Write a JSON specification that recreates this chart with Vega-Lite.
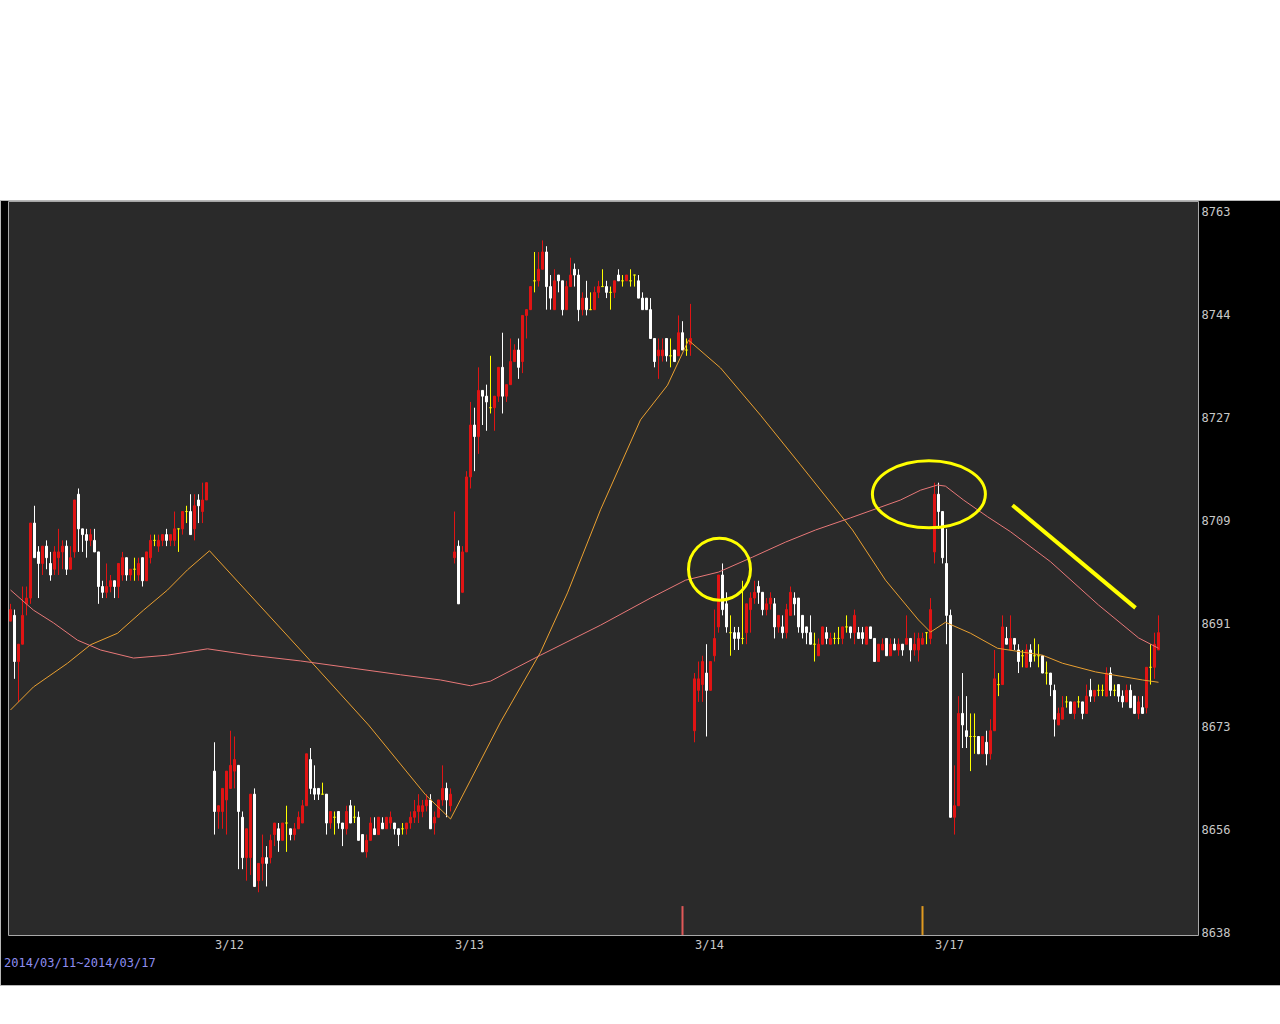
{
"$schema": "https://vega.github.io/schema/vega-lite/v6.json",
"width": 1280, "height": 785,
"autosize": {"type": "none"},
"padding": {"left": 0, "top": 200, "right": 0, "bottom": 39},
"background": "#ffffff",
"view": {"fill": "#000000", "stroke": "#b8b8b8", "strokeWidth": 1},
"title": {"text": "2014/03/11~2014/03/17", "orient": "bottom", "anchor": "start", "frame": "group", "offset": -27, "dx": 4, "color": "#8e8ef0", "font": "DejaVu Sans Mono", "fontSize": 12, "fontWeight": "normal"},
"config": {"axis": {"zindex": 1}},
"resolve": {"scale": {"color": "independent"}},
"datasets": {
"k": [
{"i":0,"o":8692,"h":8695,"l":8692,"c":8694},{"i":1,"o":8693,"h":8694,"l":8682,"c":8685},{"i":2,"o":8685,"h":8688,"l":8678,"c":8688},{"i":3,"o":8688,"h":8698,"l":8688,"c":8693},{"i":4,"o":8695,"h":8698,"l":8693,"c":8696},{"i":5,"o":8696,"h":8709,"l":8695,"c":8709},{"i":6,"o":8709,"h":8712,"l":8703,"c":8703},{"i":7,"o":8704,"h":8705,"l":8696,"c":8702},{"i":8,"o":8702,"h":8705,"l":8700,"c":8705},{"i":9,"o":8705,"h":8706,"l":8701,"c":8703},
{"i":10,"o":8702,"h":8704,"l":8699,"c":8700},{"i":11,"o":8701,"h":8705,"l":8700,"c":8704},{"i":12,"o":8703,"h":8708,"l":8700,"c":8704},{"i":13,"o":8704,"h":8706,"l":8701,"c":8705},{"i":14,"o":8705,"h":8706,"l":8700,"c":8701},{"i":15,"o":8701,"h":8705,"l":8701,"c":8703},{"i":16,"o":8704,"h":8713,"l":8703,"c":8713},{"i":17,"o":8714,"h":8715,"l":8704,"c":8708},{"i":18,"o":8708,"h":8708,"l":8704,"c":8707},{"i":19,"o":8707,"h":8708,"l":8703,"c":8706},
{"i":20,"o":8706,"h":8708,"l":8705,"c":8707},{"i":21,"o":8706,"h":8708,"l":8704,"c":8704},{"i":22,"o":8704,"h":8704,"l":8695,"c":8698},{"i":23,"o":8698,"h":8699,"l":8696,"c":8697},{"i":24,"o":8697,"h":8702,"l":8696,"c":8698},{"i":25,"o":8698,"h":8700,"l":8697,"c":8699},{"i":26,"o":8699,"h":8699,"l":8696,"c":8698},{"i":27,"o":8698,"h":8702,"l":8696,"c":8702},{"i":28,"o":8700,"h":8704,"l":8699,"c":8703},{"i":29,"o":8703,"h":8703,"l":8699,"c":8700},
{"i":30,"o":8700,"h":8701,"l":8699,"c":8701},{"i":31,"o":8701,"h":8703,"l":8699,"c":8701},{"i":32,"o":8700,"h":8703,"l":8699,"c":8702},{"i":33,"o":8703,"h":8703,"l":8698,"c":8699},{"i":34,"o":8699,"h":8704,"l":8699,"c":8704},{"i":35,"o":8703,"h":8707,"l":8702,"c":8706},{"i":36,"o":8706,"h":8707,"l":8705,"c":8706},{"i":37,"o":8705,"h":8707,"l":8704,"c":8706},{"i":38,"o":8706,"h":8707,"l":8705,"c":8707},{"i":39,"o":8707,"h":8708,"l":8705,"c":8706},
{"i":40,"o":8706,"h":8707,"l":8705,"c":8707},{"i":41,"o":8706,"h":8711,"l":8705,"c":8708},{"i":42,"o":8708,"h":8708,"l":8704,"c":8708},{"i":43,"o":8708,"h":8711,"l":8707,"c":8711},{"i":44,"o":8711,"h":8712,"l":8709,"c":8711},{"i":45,"o":8711,"h":8714,"l":8707,"c":8707},{"i":46,"o":8708,"h":8714,"l":8706,"c":8712},{"i":47,"o":8713,"h":8714,"l":8709,"c":8712},{"i":48,"o":8711,"h":8716,"l":8709,"c":8713},{"i":49,"o":8713,"h":8716,"l":8713,"c":8716},
{"i":51,"o":8666,"h":8671,"l":8655,"c":8659},{"i":52,"o":8659,"h":8660,"l":8656,"c":8660},{"i":53,"o":8659,"h":8663,"l":8656,"c":8663},{"i":54,"o":8661,"h":8666,"l":8655,"c":8666},{"i":55,"o":8663,"h":8673,"l":8663,"c":8667},{"i":56,"o":8666,"h":8672,"l":8663,"c":8668},{"i":57,"o":8667,"h":8667,"l":8649,"c":8659},{"i":58,"o":8658,"h":8659,"l":8649,"c":8651},{"i":59,"o":8651,"h":8656,"l":8647,"c":8656},
{"i":60,"o":8651,"h":8662,"l":8648,"c":8662},{"i":61,"o":8662,"h":8663,"l":8646,"c":8646},{"i":62,"o":8647,"h":8650,"l":8645,"c":8650},{"i":63,"o":8650,"h":8655,"l":8647,"c":8651},{"i":64,"o":8651,"h":8653,"l":8646,"c":8650},{"i":65,"o":8651,"h":8655,"l":8650,"c":8654},{"i":66,"o":8655,"h":8657,"l":8653,"c":8657},{"i":67,"o":8656,"h":8657,"l":8652,"c":8654},{"i":68,"o":8654,"h":8657,"l":8654,"c":8657},{"i":69,"o":8657,"h":8660,"l":8652,"c":8657},
{"i":70,"o":8656,"h":8656,"l":8654,"c":8655},{"i":71,"o":8655,"h":8657,"l":8654,"c":8656},{"i":72,"o":8656,"h":8659,"l":8656,"c":8658},{"i":73,"o":8657,"h":8661,"l":8657,"c":8660},{"i":74,"o":8660,"h":8669,"l":8660,"c":8669},{"i":75,"o":8668,"h":8670,"l":8662,"c":8663},{"i":76,"o":8663,"h":8667,"l":8661,"c":8662},{"i":77,"o":8663,"h":8663,"l":8661,"c":8662},{"i":78,"o":8662,"h":8664,"l":8662,"c":8662},{"i":79,"o":8662,"h":8662,"l":8655,"c":8657},
{"i":80,"o":8657,"h":8659,"l":8656,"c":8659},{"i":81,"o":8658,"h":8659,"l":8655,"c":8658},{"i":82,"o":8659,"h":8659,"l":8656,"c":8657},{"i":83,"o":8657,"h":8657,"l":8653,"c":8656},{"i":84,"o":8656,"h":8660,"l":8655,"c":8659},{"i":85,"o":8660,"h":8661,"l":8657,"c":8657},{"i":86,"o":8658,"h":8660,"l":8657,"c":8658},{"i":87,"o":8658,"h":8659,"l":8654,"c":8654},{"i":88,"o":8655,"h":8655,"l":8652,"c":8652},{"i":89,"o":8652,"h":8655,"l":8651,"c":8654},
{"i":90,"o":8654,"h":8658,"l":8654,"c":8657},{"i":91,"o":8656,"h":8658,"l":8655,"c":8655},{"i":92,"o":8655,"h":8658,"l":8655,"c":8658},{"i":93,"o":8657,"h":8658,"l":8656,"c":8656},{"i":94,"o":8656,"h":8658,"l":8656,"c":8658},{"i":95,"o":8657,"h":8659,"l":8656,"c":8658},{"i":96,"o":8657,"h":8657,"l":8655,"c":8656},{"i":97,"o":8656,"h":8656,"l":8653,"c":8655},{"i":98,"o":8656,"h":8657,"l":8655,"c":8656},{"i":99,"o":8656,"h":8657,"l":8655,"c":8657},
{"i":100,"o":8657,"h":8659,"l":8656,"c":8658},{"i":101,"o":8658,"h":8661,"l":8657,"c":8659},{"i":102,"o":8659,"h":8662,"l":8657,"c":8660},{"i":103,"o":8659,"h":8661,"l":8658,"c":8660},{"i":104,"o":8660,"h":8662,"l":8659,"c":8661},{"i":105,"o":8661,"h":8662,"l":8656,"c":8656},{"i":106,"o":8657,"h":8659,"l":8655,"c":8658},{"i":107,"o":8658,"h":8661,"l":8658,"c":8661},{"i":108,"o":8661,"h":8667,"l":8660,"c":8663},{"i":109,"o":8663,"h":8664,"l":8658,"c":8661},
{"i":110,"o":8660,"h":8663,"l":8659,"c":8662},
{"i":111,"o":8703,"h":8711,"l":8702,"c":8704},{"i":112,"o":8705,"h":8706,"l":8695,"c":8695},{"i":113,"o":8697,"h":8705,"l":8697,"c":8704},{"i":114,"o":8704,"h":8718,"l":8704,"c":8717},{"i":115,"o":8717,"h":8730,"l":8715,"c":8726},{"i":116,"o":8726,"h":8729,"l":8718,"c":8724},{"i":117,"o":8724,"h":8736,"l":8721,"c":8732},{"i":118,"o":8732,"h":8732,"l":8726,"c":8731},{"i":119,"o":8731,"h":8733,"l":8725,"c":8730},
{"i":120,"o":8729,"h":8738,"l":8728,"c":8729},{"i":121,"o":8729,"h":8731,"l":8725,"c":8731},{"i":122,"o":8731,"h":8736,"l":8730,"c":8736},{"i":123,"o":8736,"h":8742,"l":8728,"c":8731},{"i":124,"o":8731,"h":8733,"l":8730,"c":8733},{"i":125,"o":8733,"h":8741,"l":8733,"c":8737},{"i":126,"o":8737,"h":8740,"l":8737,"c":8739},{"i":127,"o":8739,"h":8741,"l":8734,"c":8736},{"i":128,"o":8737,"h":8745,"l":8735,"c":8745},{"i":129,"o":8745,"h":8746,"l":8741,"c":8746},
{"i":130,"o":8746,"h":8750,"l":8746,"c":8750},{"i":131,"o":8751,"h":8756,"l":8749,"c":8751},{"i":132,"o":8751,"h":8756,"l":8750,"c":8753},{"i":133,"o":8753,"h":8758,"l":8753,"c":8756},{"i":134,"o":8756,"h":8757,"l":8746,"c":8750},{"i":135,"o":8750,"h":8752,"l":8746,"c":8748},{"i":136,"o":8746,"h":8753,"l":8746,"c":8751},{"i":137,"o":8752,"h":8752,"l":8749,"c":8751},{"i":138,"o":8751,"h":8751,"l":8745,"c":8746},{"i":139,"o":8746,"h":8751,"l":8746,"c":8750},
{"i":140,"o":8750,"h":8755,"l":8750,"c":8752},{"i":141,"o":8753,"h":8754,"l":8750,"c":8752},{"i":142,"o":8752,"h":8753,"l":8744,"c":8746},{"i":143,"o":8746,"h":8749,"l":8745,"c":8748},{"i":144,"o":8748,"h":8751,"l":8745,"c":8746},{"i":145,"o":8746,"h":8749,"l":8746,"c":8746},{"i":146,"o":8746,"h":8750,"l":8746,"c":8749},{"i":147,"o":8749,"h":8751,"l":8748,"c":8750},{"i":148,"o":8750,"h":8753,"l":8750,"c":8750},{"i":149,"o":8750,"h":8751,"l":8748,"c":8749},
{"i":150,"o":8749,"h":8750,"l":8746,"c":8749},{"i":151,"o":8749,"h":8751,"l":8748,"c":8751},{"i":152,"o":8752,"h":8753,"l":8751,"c":8751},{"i":153,"o":8751,"h":8752,"l":8750,"c":8751},{"i":154,"o":8751,"h":8752,"l":8751,"c":8752},{"i":155,"o":8751,"h":8753,"l":8750,"c":8751},{"i":156,"o":8752,"h":8752,"l":8750,"c":8752},{"i":157,"o":8751,"h":8752,"l":8748,"c":8748},{"i":158,"o":8748,"h":8749,"l":8746,"c":8746},{"i":159,"o":8748,"h":8748,"l":8746,"c":8746},
{"i":160,"o":8746,"h":8748,"l":8741,"c":8741},{"i":161,"o":8741,"h":8741,"l":8736,"c":8737},{"i":162,"o":8738,"h":8741,"l":8734,"c":8739},{"i":163,"o":8738,"h":8741,"l":8737,"c":8739},{"i":164,"o":8741,"h":8741,"l":8737,"c":8738},{"i":165,"o":8738,"h":8741,"l":8736,"c":8738},{"i":166,"o":8739,"h":8739,"l":8737,"c":8737},{"i":167,"o":8738,"h":8745,"l":8738,"c":8742},{"i":168,"o":8742,"h":8744,"l":8739,"c":8739},{"i":169,"o":8739,"h":8741,"l":8738,"c":8739},
{"i":170,"o":8740,"h":8747,"l":8738,"c":8741},
{"i":171,"o":8673,"h":8683,"l":8671,"c":8682},{"i":172,"o":8680,"h":8685,"l":8678,"c":8682},{"i":173,"o":8681,"h":8686,"l":8678,"c":8685},{"i":174,"o":8683,"h":8688,"l":8672,"c":8680},{"i":175,"o":8680,"h":8685,"l":8680,"c":8685},{"i":176,"o":8686,"h":8694,"l":8685,"c":8689},{"i":177,"o":8691,"h":8700,"l":8690,"c":8700},{"i":178,"o":8700,"h":8702,"l":8693,"c":8694},{"i":179,"o":8695,"h":8697,"l":8690,"c":8691},
{"i":180,"o":8690,"h":8693,"l":8686,"c":8690},{"i":181,"o":8690,"h":8691,"l":8687,"c":8689},{"i":182,"o":8690,"h":8691,"l":8687,"c":8689},{"i":183,"o":8689,"h":8699,"l":8688,"c":8689},{"i":184,"o":8690,"h":8695,"l":8688,"c":8695},{"i":185,"o":8694,"h":8697,"l":8690,"c":8696},{"i":186,"o":8696,"h":8699,"l":8695,"c":8697},{"i":187,"o":8698,"h":8699,"l":8695,"c":8697},{"i":188,"o":8697,"h":8697,"l":8693,"c":8694},{"i":189,"o":8694,"h":8696,"l":8693,"c":8695},
{"i":190,"o":8695,"h":8697,"l":8694,"c":8696},{"i":191,"o":8695,"h":8696,"l":8689,"c":8691},{"i":192,"o":8691,"h":8693,"l":8690,"c":8693},{"i":193,"o":8691,"h":8693,"l":8689,"c":8690},{"i":194,"o":8690,"h":8695,"l":8689,"c":8694},{"i":195,"o":8693,"h":8698,"l":8693,"c":8697},{"i":196,"o":8696,"h":8697,"l":8693,"c":8695},{"i":197,"o":8696,"h":8696,"l":8690,"c":8691},{"i":198,"o":8693,"h":8693,"l":8689,"c":8690},{"i":199,"o":8691,"h":8691,"l":8688,"c":8690},
{"i":200,"o":8690,"h":8693,"l":8688,"c":8688},{"i":201,"o":8688,"h":8690,"l":8685,"c":8688},{"i":202,"o":8686,"h":8689,"l":8686,"c":8688},{"i":203,"o":8688,"h":8691,"l":8688,"c":8691},{"i":204,"o":8690,"h":8691,"l":8688,"c":8689},{"i":205,"o":8688,"h":8690,"l":8688,"c":8689},{"i":206,"o":8689,"h":8690,"l":8688,"c":8689},{"i":207,"o":8689,"h":8691,"l":8688,"c":8689},{"i":208,"o":8689,"h":8691,"l":8688,"c":8691},{"i":209,"o":8691,"h":8693,"l":8690,"c":8691},
{"i":210,"o":8691,"h":8691,"l":8689,"c":8690},{"i":211,"o":8690,"h":8694,"l":8688,"c":8693},{"i":212,"o":8690,"h":8691,"l":8689,"c":8689},{"i":213,"o":8690,"h":8691,"l":8688,"c":8689},{"i":214,"o":8688,"h":8691,"l":8688,"c":8691},{"i":215,"o":8691,"h":8691,"l":8689,"c":8689},{"i":216,"o":8689,"h":8689,"l":8685,"c":8685},{"i":217,"o":8685,"h":8688,"l":8685,"c":8688},{"i":218,"o":8687,"h":8689,"l":8687,"c":8688},{"i":219,"o":8689,"h":8689,"l":8686,"c":8686},
{"i":220,"o":8686,"h":8689,"l":8686,"c":8688},{"i":221,"o":8688,"h":8689,"l":8687,"c":8687},{"i":222,"o":8687,"h":8689,"l":8686,"c":8688},{"i":223,"o":8688,"h":8688,"l":8686,"c":8687},{"i":224,"o":8688,"h":8693,"l":8688,"c":8689},{"i":225,"o":8689,"h":8689,"l":8685,"c":8687},{"i":226,"o":8687,"h":8690,"l":8686,"c":8688},{"i":227,"o":8687,"h":8690,"l":8685,"c":8689},{"i":228,"o":8688,"h":8690,"l":8688,"c":8689},{"i":229,"o":8690,"h":8690,"l":8688,"c":8690},
{"i":230,"o":8689,"h":8696,"l":8688,"c":8694},
{"i":231,"o":8704,"h":8716,"l":8702,"c":8714},{"i":232,"o":8714,"h":8716,"l":8708,"c":8711},{"i":233,"o":8711,"h":8711,"l":8702,"c":8703},{"i":234,"o":8702,"h":8708,"l":8688,"c":8693},{"i":235,"o":8693,"h":8694,"l":8658,"c":8658},{"i":236,"o":8658,"h":8667,"l":8655,"c":8660},{"i":237,"o":8660,"h":8679,"l":8660,"c":8676},{"i":238,"o":8676,"h":8683,"l":8670,"c":8674},{"i":239,"o":8673,"h":8679,"l":8670,"c":8672},
{"i":240,"o":8672,"h":8676,"l":8666,"c":8672},{"i":241,"o":8672,"h":8676,"l":8669,"c":8672},{"i":242,"o":8672,"h":8672,"l":8669,"c":8669},{"i":243,"o":8669,"h":8672,"l":8669,"c":8672},{"i":244,"o":8671,"h":8673,"l":8667,"c":8669},{"i":245,"o":8669,"h":8675,"l":8668,"c":8673},{"i":246,"o":8673,"h":8687,"l":8673,"c":8682},{"i":247,"o":8681,"h":8683,"l":8679,"c":8681},{"i":248,"o":8681,"h":8693,"l":8681,"c":8691},{"i":249,"o":8689,"h":8691,"l":8688,"c":8688},
{"i":250,"o":8687,"h":8693,"l":8687,"c":8689},{"i":251,"o":8689,"h":8689,"l":8687,"c":8688},{"i":252,"o":8687,"h":8688,"l":8683,"c":8685},{"i":253,"o":8686,"h":8687,"l":8684,"c":8686},{"i":254,"o":8684,"h":8688,"l":8684,"c":8687},{"i":255,"o":8687,"h":8688,"l":8684,"c":8685},{"i":256,"o":8686,"h":8689,"l":8685,"c":8686},{"i":257,"o":8686,"h":8688,"l":8684,"c":8686},{"i":258,"o":8686,"h":8686,"l":8683,"c":8683},{"i":259,"o":8683,"h":8685,"l":8681,"c":8683},
{"i":260,"o":8683,"h":8683,"l":8679,"c":8681},{"i":261,"o":8680,"h":8681,"l":8672,"c":8675},{"i":262,"o":8674,"h":8677,"l":8674,"c":8676},{"i":263,"o":8675,"h":8679,"l":8675,"c":8677},{"i":264,"o":8678,"h":8679,"l":8677,"c":8678},{"i":265,"o":8678,"h":8678,"l":8676,"c":8676},{"i":266,"o":8676,"h":8678,"l":8675,"c":8678},{"i":267,"o":8678,"h":8679,"l":8677,"c":8678},{"i":268,"o":8678,"h":8678,"l":8675,"c":8676},{"i":269,"o":8676,"h":8681,"l":8676,"c":8679},
{"i":270,"o":8680,"h":8682,"l":8678,"c":8679},{"i":271,"o":8679,"h":8680,"l":8678,"c":8680},{"i":272,"o":8680,"h":8681,"l":8679,"c":8680},{"i":273,"o":8680,"h":8681,"l":8679,"c":8680},{"i":274,"o":8679,"h":8684,"l":8679,"c":8683},{"i":275,"o":8683,"h":8684,"l":8679,"c":8680},{"i":276,"o":8680,"h":8681,"l":8679,"c":8680},{"i":277,"o":8681,"h":8681,"l":8678,"c":8679},{"i":278,"o":8679,"h":8680,"l":8677,"c":8678},{"i":279,"o":8678,"h":8681,"l":8678,"c":8680},
{"i":280,"o":8680,"h":8681,"l":8677,"c":8677},{"i":281,"o":8679,"h":8679,"l":8676,"c":8676},{"i":282,"o":8676,"h":8679,"l":8675,"c":8678},{"i":283,"o":8677,"h":8679,"l":8676,"c":8676},{"i":284,"o":8677,"h":8684,"l":8676,"c":8684},{"i":285,"o":8684,"h":8688,"l":8681,"c":8684},{"i":286,"o":8684,"h":8690,"l":8682,"c":8688},{"i":287,"o":8687,"h":8693,"l":8687,"c":8690}
],
"ma": [
{"line":"short","i":0,"v":8676.6},{"line":"short","i":5.75,"v":8680.6},{"line":"short","i":14.25,"v":8684.7},{"line":"short","i":20,"v":8687.9},{"line":"short","i":26.75,"v":8689.9},{"line":"short","i":33.25,"v":8693.9},{"line":"short","i":39.25,"v":8697.4},{"line":"short","i":44.25,"v":8700.9},{"line":"short","i":49.75,"v":8704.2},{"line":"short","i":72.5,"v":8687.0},{"line":"short","i":89.5,"v":8674.0},{"line":"short","i":103.75,"v":8661.9},{"line":"short","i":110,"v":8657.7},{"line":"short","i":122.5,"v":8674.5},{"line":"short","i":132.5,"v":8686.6},{"line":"short","i":139.25,"v":8696.9},{"line":"short","i":147.5,"v":8711.3},{"line":"short","i":157.5,"v":8726.9},{"line":"short","i":164.25,"v":8732.9},{"line":"short","i":169.5,"v":8740.7},{"line":"short","i":177.5,"v":8735.9},{"line":"short","i":187.5,"v":8727.7},{"line":"short","i":197.5,"v":8719.1},{"line":"short","i":210.5,"v":8707.8},{"line":"short","i":218.75,"v":8699.1},{"line":"short","i":227,"v":8692.2},{"line":"short","i":230,"v":8690.1},{"line":"short","i":233.75,"v":8691.8},{"line":"short","i":240,"v":8689.9},{"line":"short","i":246.75,"v":8687.3},{"line":"short","i":258,"v":8686.1},{"line":"short","i":263,"v":8684.7},{"line":"short","i":271.25,"v":8683.2},{"line":"short","i":283,"v":8681.8},{"line":"short","i":287,"v":8681.4},
{"line":"long","i":0,"v":8697.4},{"line":"long","i":5.75,"v":8693.9},{"line":"long","i":10.75,"v":8691.7},{"line":"long","i":16.75,"v":8688.7},{"line":"long","i":22.5,"v":8687.0},{"line":"long","i":30.75,"v":8685.6},{"line":"long","i":39.25,"v":8686.1},{"line":"long","i":49.25,"v":8687.2},{"line":"long","i":60,"v":8686.1},{"line":"long","i":72.5,"v":8685.1},{"line":"long","i":85,"v":8683.9},{"line":"long","i":97.5,"v":8682.7},{"line":"long","i":107.5,"v":8681.8},{"line":"long","i":115,"v":8680.8},{"line":"long","i":120,"v":8681.6},{"line":"long","i":132.5,"v":8686.1},{"line":"long","i":147.5,"v":8691.3},{"line":"long","i":160,"v":8696.0},{"line":"long","i":168.75,"v":8699.1},{"line":"long","i":177,"v":8700.5},{"line":"long","i":185.5,"v":8703.1},{"line":"long","i":193.75,"v":8705.7},{"line":"long","i":201.25,"v":8707.8},{"line":"long","i":210,"v":8709.9},{"line":"long","i":222.5,"v":8713.0},{"line":"long","i":227.5,"v":8714.7},{"line":"long","i":231.75,"v":8715.6},{"line":"long","i":233.75,"v":8715.4},{"line":"long","i":238.25,"v":8713.0},{"line":"long","i":244.25,"v":8710.1},{"line":"long","i":250,"v":8707.5},{"line":"long","i":260,"v":8702.3},{"line":"long","i":272,"v":8694.8},{"line":"long","i":282,"v":8689.1},{"line":"long","i":287,"v":8687.3}
],
"mk": [{"i":168,"lo":8637.6,"hi":8642.6,"m":"a"},{"i":228,"lo":8637.6,"hi":8642.6,"m":"b"}]
},
"layer": [
{"data": {"values": [{}]},
 "mark": {"type": "rect", "fill": "#2a2a2a", "stroke": "#a8a8a8", "strokeWidth": 1},
 "encoding": {
  "x": {"datum": -0.5, "type": "quantitative", "scale": {"domain": [-2.625, 317.375], "nice": false, "zero": false, "padding": 0},
        "axis": {"orient": "bottom", "offset": -50, "values": [51, 111, 171, 231], "labelExpr": "datum.value < 80 ? '3/12' : datum.value < 140 ? '3/13' : datum.value < 200 ? '3/14' : '3/17'", "labelAlign": "left", "labelBaseline": "top", "labelPadding": 4, "labelColor": "#c8c8c8", "labelFont": "DejaVu Sans Mono", "labelFontSize": 12, "domain": false, "ticks": false, "grid": false, "title": null, "labelFlush": false, "labelOverlap": false, "labelBound": false, "zindex": 1}},
  "x2": {"datum": 297},
  "y": {"datum": 8764.75, "type": "quantitative", "scale": {"domain": [8628.92, 8765.01], "nice": false, "zero": false, "padding": 0},
        "axis": {"orient": "right", "offset": -80, "values": [8638, 8655.857, 8673.714, 8691.571, 8709.429, 8727.286, 8745.143, 8763], "labelExpr": "datum.value < 8647 ? '8638' : datum.value < 8665 ? '8656' : datum.value < 8682 ? '8673' : datum.value < 8700 ? '8691' : datum.value < 8718 ? '8709' : datum.value < 8736 ? '8727' : datum.value < 8754 ? '8744' : '8763'", "labelAlign": "left", "labelPadding": 1, "labelColor": "#c8c8c8", "labelFont": "DejaVu Sans Mono", "labelFontSize": 12, "domain": false, "ticks": false, "grid": false, "title": null, "labelFlush": false, "labelOverlap": false, "labelBound": false, "zindex": 1}},
  "y2": {"datum": 8637.5}
 }},
{"data": {"name": "mk"},
 "mark": {"type": "rule", "strokeWidth": 2},
 "encoding": {
  "x": {"field": "i", "type": "quantitative", "scale": {"domain": [-2.625, 317.375], "nice": false, "zero": false, "padding": 0},
        "axis": {"orient": "bottom", "offset": -50, "values": [51, 111, 171, 231], "labelExpr": "datum.value < 80 ? '3/12' : datum.value < 140 ? '3/13' : datum.value < 200 ? '3/14' : '3/17'", "labelAlign": "left", "labelBaseline": "top", "labelPadding": 4, "labelColor": "#c8c8c8", "labelFont": "DejaVu Sans Mono", "labelFontSize": 12, "domain": false, "ticks": false, "grid": false, "title": null, "labelFlush": false, "labelOverlap": false, "labelBound": false, "zindex": 1}},
  "y": {"field": "lo", "type": "quantitative", "scale": {"domain": [8628.92, 8765.01], "nice": false, "zero": false, "padding": 0},
        "axis": {"orient": "right", "offset": -80, "values": [8638, 8655.857, 8673.714, 8691.571, 8709.429, 8727.286, 8745.143, 8763], "labelExpr": "datum.value < 8647 ? '8638' : datum.value < 8665 ? '8656' : datum.value < 8682 ? '8673' : datum.value < 8700 ? '8691' : datum.value < 8718 ? '8709' : datum.value < 8736 ? '8727' : datum.value < 8754 ? '8744' : '8763'", "labelAlign": "left", "labelPadding": 1, "labelColor": "#c8c8c8", "labelFont": "DejaVu Sans Mono", "labelFontSize": 12, "domain": false, "ticks": false, "grid": false, "title": null, "labelFlush": false, "labelOverlap": false, "labelBound": false, "zindex": 1}},
  "y2": {"field": "hi"},
  "color": {"field": "m", "type": "nominal", "scale": {"domain": ["a", "b"], "range": ["#e05858", "#e09a20"]}, "legend": null}
 }},
{"data": {"name": "k"},
 "mark": {"type": "rule", "strokeWidth": 1},
 "encoding": {
  "x": {"field": "i", "type": "quantitative", "scale": {"domain": [-2.625, 317.375], "nice": false, "zero": false, "padding": 0},
        "axis": {"orient": "bottom", "offset": -50, "values": [51, 111, 171, 231], "labelExpr": "datum.value < 80 ? '3/12' : datum.value < 140 ? '3/13' : datum.value < 200 ? '3/14' : '3/17'", "labelAlign": "left", "labelBaseline": "top", "labelPadding": 4, "labelColor": "#c8c8c8", "labelFont": "DejaVu Sans Mono", "labelFontSize": 12, "domain": false, "ticks": false, "grid": false, "title": null, "labelFlush": false, "labelOverlap": false, "labelBound": false, "zindex": 1}},
  "y": {"field": "l", "type": "quantitative", "scale": {"domain": [8628.92, 8765.01], "nice": false, "zero": false, "padding": 0},
        "axis": {"orient": "right", "offset": -80, "values": [8638, 8655.857, 8673.714, 8691.571, 8709.429, 8727.286, 8745.143, 8763], "labelExpr": "datum.value < 8647 ? '8638' : datum.value < 8665 ? '8656' : datum.value < 8682 ? '8673' : datum.value < 8700 ? '8691' : datum.value < 8718 ? '8709' : datum.value < 8736 ? '8727' : datum.value < 8754 ? '8744' : '8763'", "labelAlign": "left", "labelPadding": 1, "labelColor": "#c8c8c8", "labelFont": "DejaVu Sans Mono", "labelFontSize": 12, "domain": false, "ticks": false, "grid": false, "title": null, "labelFlush": false, "labelOverlap": false, "labelBound": false, "zindex": 1}},
  "y2": {"field": "h"},
  "color": {"condition": [{"test": "datum.c > datum.o", "value": "#e01414"}, {"test": "datum.c == datum.o", "value": "#ffff00"}], "value": "#ffffff"}
 }},
{"data": {"name": "k"},
 "mark": {"type": "bar", "width": 2, "strokeWidth": 1},
 "encoding": {
  "x": {"field": "i", "type": "quantitative", "scale": {"domain": [-2.625, 317.375], "nice": false, "zero": false, "padding": 0},
        "axis": {"orient": "bottom", "offset": -50, "values": [51, 111, 171, 231], "labelExpr": "datum.value < 80 ? '3/12' : datum.value < 140 ? '3/13' : datum.value < 200 ? '3/14' : '3/17'", "labelAlign": "left", "labelBaseline": "top", "labelPadding": 4, "labelColor": "#c8c8c8", "labelFont": "DejaVu Sans Mono", "labelFontSize": 12, "domain": false, "ticks": false, "grid": false, "title": null, "labelFlush": false, "labelOverlap": false, "labelBound": false, "zindex": 1}},
  "y": {"field": "o", "type": "quantitative", "scale": {"domain": [8628.92, 8765.01], "nice": false, "zero": false, "padding": 0},
        "axis": {"orient": "right", "offset": -80, "values": [8638, 8655.857, 8673.714, 8691.571, 8709.429, 8727.286, 8745.143, 8763], "labelExpr": "datum.value < 8647 ? '8638' : datum.value < 8665 ? '8656' : datum.value < 8682 ? '8673' : datum.value < 8700 ? '8691' : datum.value < 8718 ? '8709' : datum.value < 8736 ? '8727' : datum.value < 8754 ? '8744' : '8763'", "labelAlign": "left", "labelPadding": 1, "labelColor": "#c8c8c8", "labelFont": "DejaVu Sans Mono", "labelFontSize": 12, "domain": false, "ticks": false, "grid": false, "title": null, "labelFlush": false, "labelOverlap": false, "labelBound": false, "zindex": 1}},
  "y2": {"field": "c"},
  "fill": {"condition": [{"test": "datum.c > datum.o", "value": "#e01414"}, {"test": "datum.c == datum.o", "value": "#ffff00"}], "value": "#ffffff"},
  "stroke": {"condition": [{"test": "datum.c > datum.o", "value": "#e01414"}, {"test": "datum.c == datum.o", "value": "#ffff00"}], "value": "#ffffff"}
 }},
{"data": {"name": "ma"},
 "mark": {"type": "line", "strokeWidth": 1},
 "encoding": {
  "x": {"field": "i", "type": "quantitative", "scale": {"domain": [-2.625, 317.375], "nice": false, "zero": false, "padding": 0},
        "axis": {"orient": "bottom", "offset": -50, "values": [51, 111, 171, 231], "labelExpr": "datum.value < 80 ? '3/12' : datum.value < 140 ? '3/13' : datum.value < 200 ? '3/14' : '3/17'", "labelAlign": "left", "labelBaseline": "top", "labelPadding": 4, "labelColor": "#c8c8c8", "labelFont": "DejaVu Sans Mono", "labelFontSize": 12, "domain": false, "ticks": false, "grid": false, "title": null, "labelFlush": false, "labelOverlap": false, "labelBound": false, "zindex": 1}},
  "y": {"field": "v", "type": "quantitative", "scale": {"domain": [8628.92, 8765.01], "nice": false, "zero": false, "padding": 0},
        "axis": {"orient": "right", "offset": -80, "values": [8638, 8655.857, 8673.714, 8691.571, 8709.429, 8727.286, 8745.143, 8763], "labelExpr": "datum.value < 8647 ? '8638' : datum.value < 8665 ? '8656' : datum.value < 8682 ? '8673' : datum.value < 8700 ? '8691' : datum.value < 8718 ? '8709' : datum.value < 8736 ? '8727' : datum.value < 8754 ? '8744' : '8763'", "labelAlign": "left", "labelPadding": 1, "labelColor": "#c8c8c8", "labelFont": "DejaVu Sans Mono", "labelFontSize": 12, "domain": false, "ticks": false, "grid": false, "title": null, "labelFlush": false, "labelOverlap": false, "labelBound": false, "zindex": 1}},
  "color": {"field": "line", "type": "nominal", "scale": {"domain": ["short", "long"], "range": ["#eaa030", "#e87878"]}, "legend": null}
 }},
{"data": {"values": [{"i": 177.25, "v": 8701}]},
 "mark": {"type": "point", "shape": "circle", "size": 3844, "filled": false, "stroke": "#ffff00", "strokeWidth": 3, "opacity": 1},
 "encoding": {
  "x": {"field": "i", "type": "quantitative", "scale": {"domain": [-2.625, 317.375], "nice": false, "zero": false, "padding": 0},
        "axis": {"orient": "bottom", "offset": -50, "values": [51, 111, 171, 231], "labelExpr": "datum.value < 80 ? '3/12' : datum.value < 140 ? '3/13' : datum.value < 200 ? '3/14' : '3/17'", "labelAlign": "left", "labelBaseline": "top", "labelPadding": 4, "labelColor": "#c8c8c8", "labelFont": "DejaVu Sans Mono", "labelFontSize": 12, "domain": false, "ticks": false, "grid": false, "title": null, "labelFlush": false, "labelOverlap": false, "labelBound": false, "zindex": 1}},
  "y": {"field": "v", "type": "quantitative", "scale": {"domain": [8628.92, 8765.01], "nice": false, "zero": false, "padding": 0},
        "axis": {"orient": "right", "offset": -80, "values": [8638, 8655.857, 8673.714, 8691.571, 8709.429, 8727.286, 8745.143, 8763], "labelExpr": "datum.value < 8647 ? '8638' : datum.value < 8665 ? '8656' : datum.value < 8682 ? '8673' : datum.value < 8700 ? '8691' : datum.value < 8718 ? '8709' : datum.value < 8736 ? '8727' : datum.value < 8754 ? '8744' : '8763'", "labelAlign": "left", "labelPadding": 1, "labelColor": "#c8c8c8", "labelFont": "DejaVu Sans Mono", "labelFontSize": 12, "domain": false, "ticks": false, "grid": false, "title": null, "labelFlush": false, "labelOverlap": false, "labelBound": false, "zindex": 1}}
 }},
{"data": {"values": [{"i": 229.6, "v": 8714}]},
 "mark": {"type": "point", "shape": "M-1,0A1,0.593,0,1,1,1,0A1,0.593,0,1,1,-1,0Z", "size": 12769, "filled": false, "stroke": "#ffff00", "strokeWidth": 3, "opacity": 1},
 "encoding": {
  "x": {"field": "i", "type": "quantitative", "scale": {"domain": [-2.625, 317.375], "nice": false, "zero": false, "padding": 0},
        "axis": {"orient": "bottom", "offset": -50, "values": [51, 111, 171, 231], "labelExpr": "datum.value < 80 ? '3/12' : datum.value < 140 ? '3/13' : datum.value < 200 ? '3/14' : '3/17'", "labelAlign": "left", "labelBaseline": "top", "labelPadding": 4, "labelColor": "#c8c8c8", "labelFont": "DejaVu Sans Mono", "labelFontSize": 12, "domain": false, "ticks": false, "grid": false, "title": null, "labelFlush": false, "labelOverlap": false, "labelBound": false, "zindex": 1}},
  "y": {"field": "v", "type": "quantitative", "scale": {"domain": [8628.92, 8765.01], "nice": false, "zero": false, "padding": 0},
        "axis": {"orient": "right", "offset": -80, "values": [8638, 8655.857, 8673.714, 8691.571, 8709.429, 8727.286, 8745.143, 8763], "labelExpr": "datum.value < 8647 ? '8638' : datum.value < 8665 ? '8656' : datum.value < 8682 ? '8673' : datum.value < 8700 ? '8691' : datum.value < 8718 ? '8709' : datum.value < 8736 ? '8727' : datum.value < 8754 ? '8744' : '8763'", "labelAlign": "left", "labelPadding": 1, "labelColor": "#c8c8c8", "labelFont": "DejaVu Sans Mono", "labelFontSize": 12, "domain": false, "ticks": false, "grid": false, "title": null, "labelFlush": false, "labelOverlap": false, "labelBound": false, "zindex": 1}}
 }},
{"data": {"values": [{"i": 250.5, "v": 8712.1, "i2": 281.25, "v2": 8694.3}]},
 "mark": {"type": "rule", "strokeWidth": 4, "color": "#ffff00"},
 "encoding": {
  "x": {"field": "i", "type": "quantitative", "scale": {"domain": [-2.625, 317.375], "nice": false, "zero": false, "padding": 0},
        "axis": {"orient": "bottom", "offset": -50, "values": [51, 111, 171, 231], "labelExpr": "datum.value < 80 ? '3/12' : datum.value < 140 ? '3/13' : datum.value < 200 ? '3/14' : '3/17'", "labelAlign": "left", "labelBaseline": "top", "labelPadding": 4, "labelColor": "#c8c8c8", "labelFont": "DejaVu Sans Mono", "labelFontSize": 12, "domain": false, "ticks": false, "grid": false, "title": null, "labelFlush": false, "labelOverlap": false, "labelBound": false, "zindex": 1}},
  "y": {"field": "v", "type": "quantitative", "scale": {"domain": [8628.92, 8765.01], "nice": false, "zero": false, "padding": 0},
        "axis": {"orient": "right", "offset": -80, "values": [8638, 8655.857, 8673.714, 8691.571, 8709.429, 8727.286, 8745.143, 8763], "labelExpr": "datum.value < 8647 ? '8638' : datum.value < 8665 ? '8656' : datum.value < 8682 ? '8673' : datum.value < 8700 ? '8691' : datum.value < 8718 ? '8709' : datum.value < 8736 ? '8727' : datum.value < 8754 ? '8744' : '8763'", "labelAlign": "left", "labelPadding": 1, "labelColor": "#c8c8c8", "labelFont": "DejaVu Sans Mono", "labelFontSize": 12, "domain": false, "ticks": false, "grid": false, "title": null, "labelFlush": false, "labelOverlap": false, "labelBound": false, "zindex": 1}},
  "x2": {"field": "i2"},
  "y2": {"field": "v2"}
 }}
]
}
